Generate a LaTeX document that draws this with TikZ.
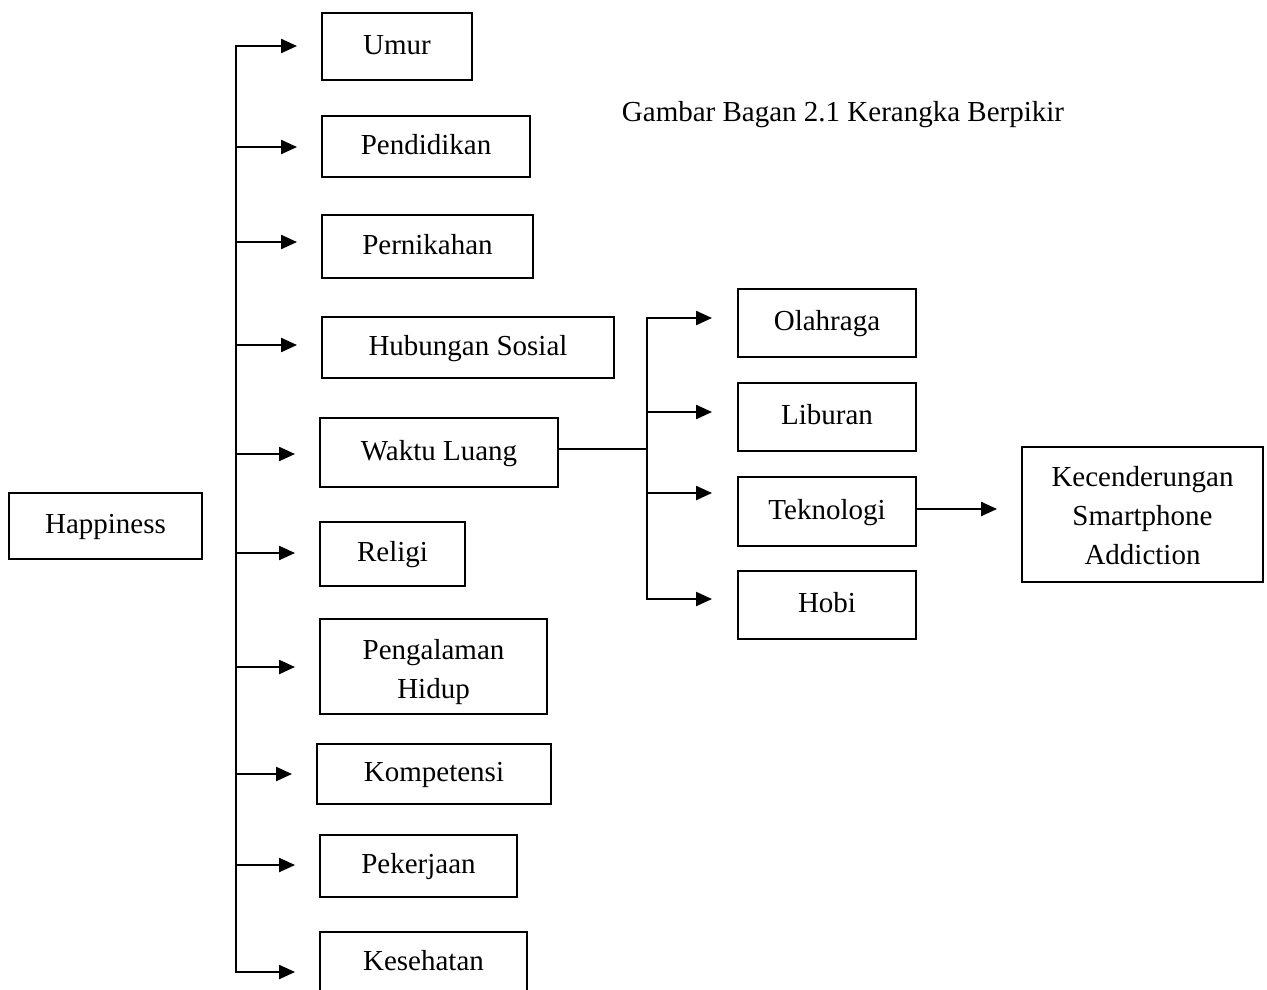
\documentclass[tikz,border=0pt]{standalone}
\usepackage{fontspec}
\setmainfont{Liberation Serif}
\usetikzlibrary{arrows.meta}
\tikzset{
  box/.style={draw, line width=1.9pt, inner sep=0pt, align=center,
    font=\fontsize{29}{39}\selectfont, text height=21.5pt, text depth=6pt},
  conn/.style={line width=2.2pt},
  arr/.style={line width=2.2pt, -{Triangle[length=16pt,width=14pt]}},
  lbl/.style={font=\fontsize{29}{39}\selectfont, inner sep=0pt, align=center}
}
\begin{document}
\begin{tikzpicture}[x=1pt,y=-1pt]
\useasboundingbox (0,0) rectangle (1267,989);
\clip (0,0) rectangle (1267,989);
% left
\node[box, minimum width=193pt, minimum height=66pt] (happy) at (105.5,526) {Happiness};
\node[box, minimum width=150pt, minimum height=67pt] (umur) at (397,46.5) {Umur};
\node[box, minimum width=208pt, minimum height=61pt] (pend) at (426,146.5) {Pendidikan};
\node[box, minimum width=211pt, minimum height=63pt] (pern) at (427.5,246.5) {Pernikahan};
\node[box, minimum width=292pt, minimum height=61pt] (hub) at (468,347.5) {Hubungan Sosial};
\node[box, minimum width=238pt, minimum height=69pt] (waktu) at (439,452.5) {Waktu Luang};
\node[box, minimum width=145pt, minimum height=64pt] (religi) at (392.5,554) {Religi};
\node[box, minimum width=227pt, minimum height=95pt,
  label={[lbl, yshift=-6pt]center:Pengalaman\\Hidup}] (peng) at (433.5,666.5) {};
\node[box, minimum width=234pt, minimum height=60pt] (komp) at (434,774) {Kompetensi};
\node[box, minimum width=197pt, minimum height=62pt] (peker) at (418.5,866) {Pekerjaan};
\node[box, minimum width=207pt, minimum height=62pt] (kes) at (423.5,963) {Kesehatan};
% right
\node[box, minimum width=178pt, minimum height=68pt] (olah) at (827,323) {Olahraga};
\node[box, minimum width=178pt, minimum height=68pt] (libur) at (827,417) {Liburan};
\node[box, minimum width=178pt, minimum height=69pt] (tekno) at (827,511.5) {Teknologi};
\node[box, minimum width=178pt, minimum height=68pt] (hobi) at (827,605) {Hobi};
\node[box, minimum width=241pt, minimum height=135pt,
  label={[lbl, yshift=-1pt]center:Kecenderungan\\Smartphone\\Addiction}] (kec) at (1142.5,514.5) {};
\node[lbl] (title) at (843,115) {Gambar Bagan 2.1 Kerangka Berpikir};

% main bus
\coordinate (bT) at (236,46);
\coordinate (bB) at (236,972);
\draw[conn] (bT) -- (bB);
\foreach \n/\y in {umur/46,pend/147,pern/242,hub/345,waktu/454,religi/553,peng/667,komp/774,peker/865,kes/972}{
  \coordinate (a\n) at (236,\y);
  \draw[arr, shorten >=24pt] ([xshift=-1.1pt]a\n) -- (a\n -| \n.west);
}
% branch bus
\coordinate (cT) at (647,318);
\coordinate (cB) at (647,599);
\draw[conn] (waktu.east |- 0,449) -- (647,449);
\draw[conn] (cT) -- (cB);
\foreach \n/\y in {olah/318,libur/412,tekno/493,hobi/599}{
  \coordinate (c\n) at (647,\y);
  \draw[arr, shorten >=25pt] ([xshift=-1.1pt]c\n) -- (c\n -| \n.west);
}
\draw[arr, shorten >=24pt] (tekno.east |- 0,509) -- (kec.west |- 0,509);
\end{tikzpicture}
\end{document}
